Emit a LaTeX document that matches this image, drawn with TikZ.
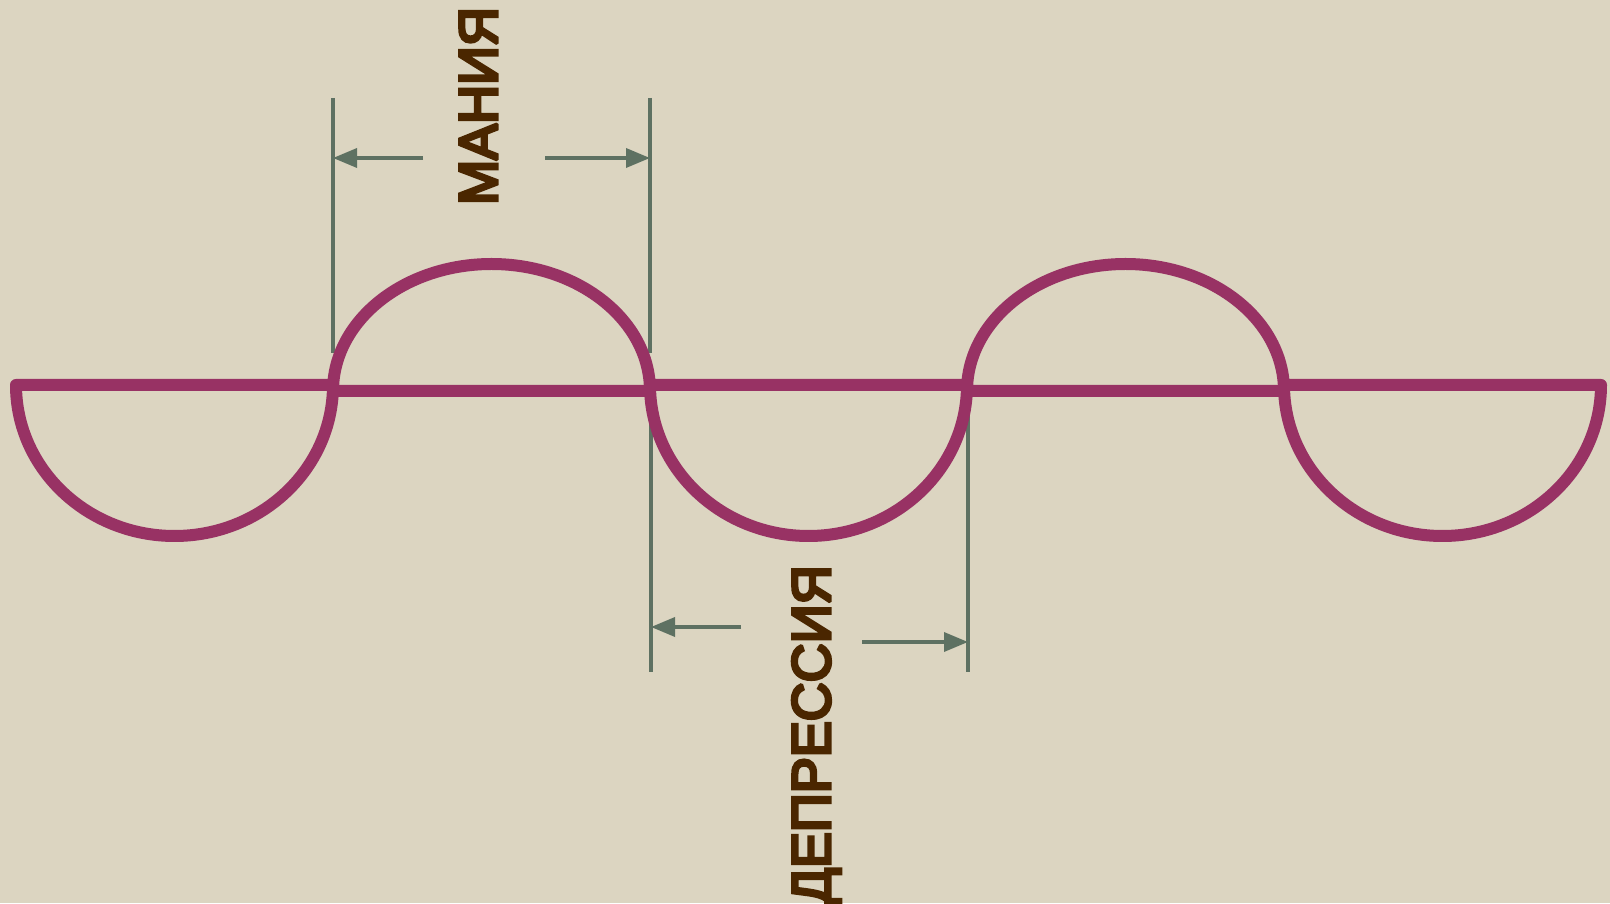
\documentclass[tikz,border=0pt]{standalone}
\usepackage{fontspec}
\setmainfont{Liberation Sans}
\newfontfamily\phasefont{Liberation Sans}
\newcommand\heavytext[1]{\special{pdf:literal direct 2 Tr 3.2 w 0 j 1.5 M 0 J}#1\special{pdf:literal direct 0 Tr}}
\usepackage{xcolor}
\definecolor{paper}{RGB}{220,213,193}
\definecolor{moodpurple}{RGB}{152,50,100}
\definecolor{dimgreen}{RGB}{94,113,98}
\definecolor{labelbrown}{RGB}{74,38,0}
\usetikzlibrary{arrows.meta,calc}

\begin{document}
\begin{tikzpicture}[
        x=1pt, y=1pt,
        wave/.style={draw=moodpurple, line width=12pt, line join=round},
        guide/.style={draw=dimgreen, line width=3.5pt},
        dimarrow/.style={-{Triangle[length=24pt,width=19pt]}, draw=dimgreen, line width=3.5pt},
        phase/.style={rotate=90, anchor=base, inner sep=0pt, text=labelbrown,
                      font=\phasefont\fontsize{54}{60}\selectfont}
    ]
        % background and page size
        \fill[paper] (0,0) rectangle (1610,903);
        \useasboundingbox (0,0) rectangle (1610,903);

        % mania guides
        \coordinate (mtopL) at (333,805);
        \coordinate (mbotL) at (333,550);
        \coordinate (mtopR) at (650,805);
        \coordinate (mbotR) at (650,550);
        \coordinate (marrL) at (423,745);
        \coordinate (marrR) at (545,745);
        \draw[guide] (mtopL) -- (mbotL);
        \draw[guide] (mtopR) -- (mbotR);
        \draw[dimarrow] (marrL) -- (marrL -| mtopL);
        \draw[dimarrow] (marrR) -- (marrR -| mtopR);
        \node[phase] (mania) at (497,797) {\heavytext{МАНИЯ}};

        % depression guides
        \coordinate (dtopL) at (651,487);
        \coordinate (dbotL) at (651,231);
        \coordinate (dtopR) at (968,487);
        \coordinate (dbotR) at (968,231);
        \coordinate (darrL) at (741,276);
        \coordinate (darrR) at (862,261);
        \draw[guide] (dtopL) -- (dbotL);
        \draw[guide] (dtopR) -- (dbotR);
        \draw[dimarrow] (darrL) -- (darrL -| dtopL);
        \draw[dimarrow] (darrR) -- (darrR -| dtopR);
        \node[phase] (depr) at (830,168) {\heavytext{ДЕПРЕССИЯ}};

        % wave of half ellipses
        \foreach \k in {0,2,4}
            \draw[wave] ({16+\k*317},518)
                arc[start angle=180, end angle=360, x radius=158.5, y radius=151] -- cycle;
        \foreach \k in {1,3}
            \draw[wave] ({16+\k*317},512)
                arc[start angle=180, end angle=0, x radius=158.5, y radius=127] -- cycle;
    \end{tikzpicture}
\end{document}
